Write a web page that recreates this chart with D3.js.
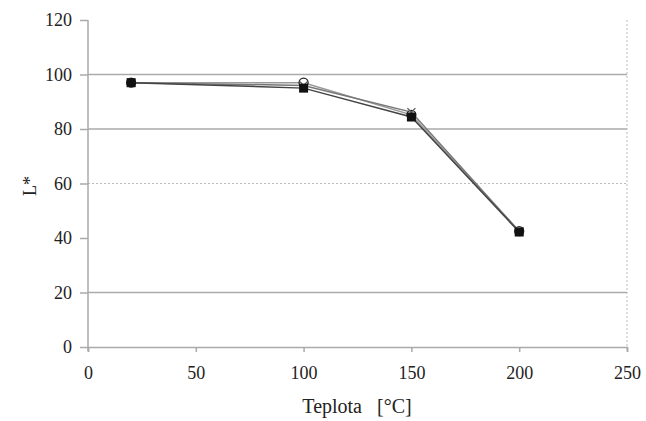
<!DOCTYPE html>
<html>
<head>
<meta charset="utf-8">
<script src="https://cdn.jsdelivr.net/npm/d3@7"></script>
<style>
  body { margin: 0; background: #fff; }
  svg { display: block; }
  text { font-family: "Liberation Serif", "Tinos", "Times New Roman", "DejaVu Serif", serif; fill: #222; white-space: pre; }
</style>
</head>
<body>
<svg id="chart" width="646" height="421"></svg>
<script>
// Lightness L* versus temperature
const temperatures = [20, 100, 150, 200];
const seriesCircle = [97, 97, 85.2, 42.5];
const seriesCross  = [97, 96, 86.2, 42.5];
const seriesSquare = [97, 95, 84.4, 42.2];
const xTicks = [0, 50, 100, 150, 200, 250];
const yTicks = [0, 20, 40, 60, 80, 100, 120];
const solidGrid = [20, 80, 100];
const dashedGrid = [60];

const FONT = "'Liberation Serif', Tinos, 'Times New Roman', 'DejaVu Serif', serif";
const svg = d3.select("#chart");
const x = d3.scaleLinear().domain([0, 250]).range([88, 627]);
const y = d3.scaleLinear().domain([0, 120]).range([347, 20]);

// horizontal gridlines
svg.selectAll(".grid").data(solidGrid).join("line")
  .attr("x1", x(0)).attr("x2", x(250))
  .attr("y1", d => y(d)).attr("y2", d => y(d))
  .attr("stroke", "#aaa").attr("stroke-width", 1.5);
svg.selectAll(".dgrid").data(dashedGrid).join("line")
  .attr("x1", x(0)).attr("x2", x(250))
  .attr("y1", d => y(d)).attr("y2", d => y(d))
  .attr("stroke", "#bbb").attr("stroke-width", 1).attr("stroke-dasharray", "2,2");

// right border
svg.append("line")
  .attr("x1", x(250)).attr("x2", x(250))
  .attr("y1", y(120)).attr("y2", y(0) + 4)
  .attr("stroke", "#bbb").attr("stroke-width", 1).attr("stroke-dasharray", "2,2");

// axes
const yAxis = d3.axisLeft(y).tickValues(yTicks).tickSize(8).tickPadding(8).tickFormat(d3.format("d"));
const gy = svg.append("g").attr("transform", `translate(${x(0)},0)`).call(yAxis);
const xAxis = d3.axisBottom(x).tickValues(xTicks).tickSize(5).tickPadding(14).tickFormat(d3.format("d"));
const gx = svg.append("g").attr("transform", `translate(0,${y(0)})`).call(xAxis);
[gy, gx].forEach(g => {
  g.attr("font-family", FONT);
  g.select(".domain").attr("stroke", "#aaa").attr("stroke-width", 1.5);
  g.selectAll(".tick line").attr("stroke", "#aaa").attr("stroke-width", 1.5);
  g.selectAll(".tick text").attr("font-size", 18).attr("font-family", FONT).attr("fill", "#222");
});
gy.select(".domain").attr("d", `M0,${y(0) + 4}V${y(120)}`);

// axis titles
svg.append("text").attr("x", 357).attr("y", 413).attr("text-anchor", "middle")
  .attr("font-family", FONT).attr("font-size", 20).text("Teplota   [°C]");
svg.append("text").attr("transform", "translate(36,186) rotate(-90)")
  .attr("font-family", FONT).attr("text-anchor", "middle").attr("font-size", 18).text("L*");

// series lines
const line = vals => d3.line().x((d, i) => x(temperatures[i])).y(d => y(d))(vals);
svg.append("path").attr("d", line(seriesCircle)).attr("fill", "none").attr("stroke", "#999").attr("stroke-width", 1.5);
svg.append("path").attr("d", line(seriesCross)).attr("fill", "none").attr("stroke", "#777").attr("stroke-width", 1.5);
svg.append("path").attr("d", line(seriesSquare)).attr("fill", "none").attr("stroke", "#444").attr("stroke-width", 1.5);

// markers
svg.selectAll(".mc").data(seriesCircle).join("circle")
  .attr("cx", (d, i) => x(temperatures[i])).attr("cy", d => y(d)).attr("r", 4.5)
  .attr("fill", "#fff").attr("stroke", "#222").attr("stroke-width", 1.3);
svg.selectAll(".mx").data(seriesCross).join("path")
  .attr("d", (d, i) => {
    const cx = x(temperatures[i]), cy = y(d), s = 4;
    return `M${cx - s},${cy - s}L${cx + s},${cy + s}M${cx - s},${cy + s}L${cx + s},${cy - s}`;
  })
  .attr("stroke", "#555").attr("stroke-width", 1.3);
svg.selectAll(".ms").data(seriesSquare).join("rect")
  .attr("x", (d, i) => x(temperatures[i]) - 4.5).attr("y", d => y(d) - 4.5)
  .attr("width", 9).attr("height", 9).attr("fill", "#111");
</script>
</body>
</html>
